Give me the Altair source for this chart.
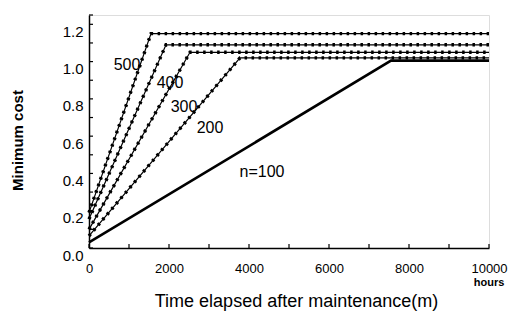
import altair as alt
import pandas as pd

# ---- data ----
series = ["500", "400", "300", "200", "n=100"]
start_v = [0.19, 0.155, 0.10, 0.065, 0.03]       # cost at t = 0
kink_t = [1550, 1925, 2525, 3775, 7550]          # hours where the line levels off
plateau_v = [1.15, 1.09, 1.05, 1.02, 1.005]      # level after the kink
end_t = 10000

label_t = [950, 2025, 2375, 3025, 4325]
label_v = [0.98, 0.885, 0.756, 0.643, 0.407]

x_ticks = [0, 1000, 2000, 3000, 4000, 5000, 6000, 7000, 8000, 9000, 10000]
y_ticks = [0.0, 0.1, 0.2, 0.3, 0.4, 0.5, 0.6, 0.7, 0.8, 0.9, 1.0, 1.1, 1.2, 1.25]
x_labels = [0, 2000, 4000, 6000, 8000, 10000]
y_labels = [0.0, 0.2, 0.4, 0.6, 0.8, 1.0, 1.2]

rows = []
for s, v0, tk, vp in zip(series, start_v, kink_t, plateau_v):
    rows.append({"series": s, "t": 0, "v": v0})
    rows.append({"series": s, "t": tk, "v": vp})
    rows.append({"series": s, "t": end_t, "v": vp})
df = pd.DataFrame(rows)
lab = pd.DataFrame({"series": series, "t": label_t, "v": label_v})
xt = pd.DataFrame({"t": x_ticks})
yt = pd.DataFrame({"v": y_ticks})
hours = pd.DataFrame({"t": [10000], "v": [-0.19], "txt": ["hours"]})

FONT = "Liberation Sans"

xs = alt.Scale(domain=[0, 10000], nice=False, zero=False)
ys = alt.Scale(domain=[0, 1.25], nice=False, zero=False)

x_axis = alt.Axis(
    values=x_labels, format="d", title="Time elapsed after maintenance(m)",
    ticks=False, tickSize=0, grid=False, labelPadding=14, labelFontSize=13,
    labelFont=FONT, labelColor="black", domainColor="black", domainWidth=1.5,
    labelOverlap=False, labelFlush=False,
    titleFont=FONT, titleFontSize=18, titleFontWeight="normal", titleColor="black",
    titleBaseline="middle", titleY=53, titleX=207)
y_axis = alt.Axis(
    values=y_labels, format=".1f", title="Minimum cost",
    ticks=False, tickSize=0, grid=False, labelPadding=6, labelFontSize=15,
    labelFont=FONT, labelColor="black", domainColor="black", domainWidth=1.5,
    labelOffset=7, labelFlush=False, labelOverlap=False,
    titleFont=FONT, titleFontSize=15, titleFontWeight="bold", titleColor="black",
    titleBaseline="middle", titleAngle=270, titleX=-72, titleY=125,
    titleAlign="center")

xe = alt.X("t:Q", scale=xs, axis=x_axis)
ye = alt.Y("v:Q", scale=ys, axis=y_axis)

dotted = df[df.series != "n=100"]
solid = df[df.series == "n=100"]

thin = alt.Chart(dotted).mark_line(color="black", strokeWidth=1.2).encode(
    x=xe, y=ye, detail="series:N")
dots = alt.Chart(dotted).mark_line(color="black", strokeWidth=3.4,
                                   strokeDash=[2.5, 4.5]).encode(
    x=xe, y=ye, detail="series:N")
thick = alt.Chart(solid).mark_line(color="black", strokeWidth=2.6).encode(
    x=xe, y=ye)

labels = alt.Chart(lab).mark_text(font=FONT, fontSize=16, color="black").encode(
    x=xe, y=ye, text="series:N")

ytick_marks = alt.Chart(yt).mark_rule(color="black", strokeWidth=1.2).encode(
    y=ye, x=alt.value(0), x2=alt.value(4))
xtick_marks = alt.Chart(xt).mark_rule(color="black", strokeWidth=1.2).encode(
    x=xe, y=alt.value(233), y2=alt.value(229))

hours_txt = alt.Chart(hours).mark_text(font=FONT, fontSize=11, fontWeight="bold",
                                       color="black", baseline="middle").encode(
    x=xe, y=ye, text="txt:N")

chart = alt.layer(thin, dots, thick, labels, ytick_marks, xtick_marks, hours_txt).properties(
    width=400, height=233,
    autosize=alt.AutoSizeParams(type="none"),
    padding={"left": 81, "top": 7, "right": 19, "bottom": 64},
).configure_view(stroke=None).configure(background="white").configure_axis(
    labelOverlap=False)

chart.save("out.html", embed_options={"renderer": "svg", "actions": False})
